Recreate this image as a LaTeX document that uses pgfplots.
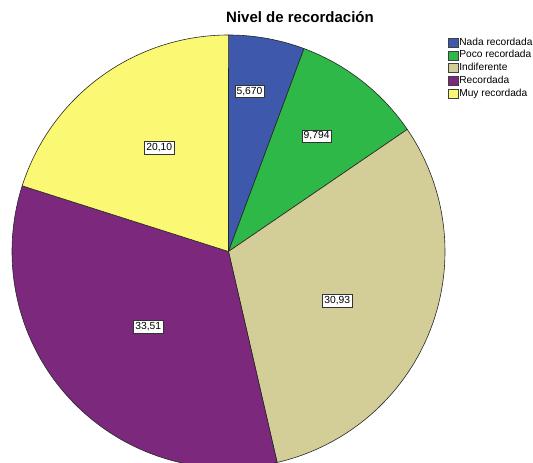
\documentclass[border=0pt]{standalone}
\usepackage{pgfplots}
\pgfplotsset{compat=1.18}
\usepackage{pgfplotstable}
\usepackage{fontspec}
\setmainfont{Liberation Sans}
\definecolor{cNada}{RGB}{62,88,172}
\definecolor{cPoco}{RGB}{46,184,72}
\definecolor{cIndif}{RGB}{211,206,151}
\definecolor{cRec}{RGB}{124,40,125}
\definecolor{cMuy}{RGB}{251,248,115}
% percentages of each category
\def\vNada{5.670}
\def\vPoco{9.794}
\def\vIndif{30.93}
\def\vRec{33.51}
\def\vMuy{20.10}
\pgfplotstableread{
x y label
249.5 371.5 {5,670}
316.6 326.8 {9,794}
337.3 162.3 {30,93}
148.3 136.0 {33,51}
159.2 315.0 {20,10}
}\labeltable
\begin{document}
\begin{tikzpicture}
\pgfmathsetmacro\aA{90}
\pgfmathsetmacro\aB{\aA-3.6*\vNada}
\pgfmathsetmacro\aC{\aB-3.6*\vPoco}
\pgfmathsetmacro\aD{\aC-3.6*\vIndif}
\pgfmathsetmacro\aE{\aD-3.6*\vRec}
\pgfmathsetmacro\aF{\aE-3.6*\vMuy}
\def\cx{228.5}
\def\cy{211.5}
\def\R{216.5}
\useasboundingbox (0,0) rectangle (533pt,463pt);
\begin{axis}[
  at={(0,0)}, anchor=south west,
  width=533pt, height=463pt, scale only axis,
  xmin=0, xmax=533, ymin=0, ymax=463,
  hide axis, clip=true,
  title={\fontsize{15}{18}\selectfont\bfseries Nivel de recordación},
  title style={at={(axis cs:300,434)}, anchor=base, inner sep=0pt},
  legend cell align=left,
  legend image code/.code={\draw[#1, draw=black!75, line width=0.6pt] (0pt,-4.5pt) rectangle (9.5pt,4.5pt);},
  legend style={at={(axis cs:448,426.5)}, anchor=north west, draw=none, fill=none,
    font=\fontsize{10.2}{12}\selectfont, inner sep=0pt, row sep=0.6pt,
    nodes={inner sep=1pt, text height=7.6pt, text depth=2.5pt},
    /tikz/every odd column/.append style={xshift=0pt},
    /tikz/every even column/.append style={xshift=1.5pt}},
]
\addplot[fill=cNada, draw=black!85, line width=0.6pt, domain=\aB:\aA, samples=40, variable=\t]
  ({\cx+\R*cos(t)}, {\cy+\R*sin(t)}) -- (axis cs:\cx,\cy) -- cycle;
\addlegendentry{Nada recordada}
\addplot[fill=cPoco, draw=black!85, line width=0.6pt, domain=\aC:\aB, samples=40, variable=\t]
  ({\cx+\R*cos(t)}, {\cy+\R*sin(t)}) -- (axis cs:\cx,\cy) -- cycle;
\addlegendentry{Poco recordada}
\addplot[fill=cIndif, draw=black!85, line width=0.6pt, domain=\aD:\aC, samples=80, variable=\t]
  ({\cx+\R*cos(t)}, {\cy+\R*sin(t)}) -- (axis cs:\cx,\cy) -- cycle;
\addlegendentry{Indiferente}
\addplot[fill=cRec, draw=black!85, line width=0.6pt, domain=\aE:\aD, samples=80, variable=\t]
  ({\cx+\R*cos(t)}, {\cy+\R*sin(t)}) -- (axis cs:\cx,\cy) -- cycle;
\addlegendentry{Recordada}
\addplot[fill=cMuy, draw=black!85, line width=0.6pt, domain=\aF:\aE, samples=60, variable=\t]
  ({\cx+\R*cos(t)}, {\cy+\R*sin(t)}) -- (axis cs:\cx,\cy) -- cycle;
\addlegendentry{Muy recordada}
\addplot[only marks, mark=none, forget plot, point meta=explicit symbolic,
  nodes near coords,
  nodes near coords style={anchor=center, draw=black!80, fill=white, line width=0.6pt,
    font=\fontsize{10.3}{12}\selectfont, inner xsep=1.8pt, inner ysep=1.6pt,
    text height=7.4pt, text depth=1.9pt}]
  table[x=x, y=y, meta=label] {\labeltable};
\end{axis}
\end{tikzpicture}
\end{document}
